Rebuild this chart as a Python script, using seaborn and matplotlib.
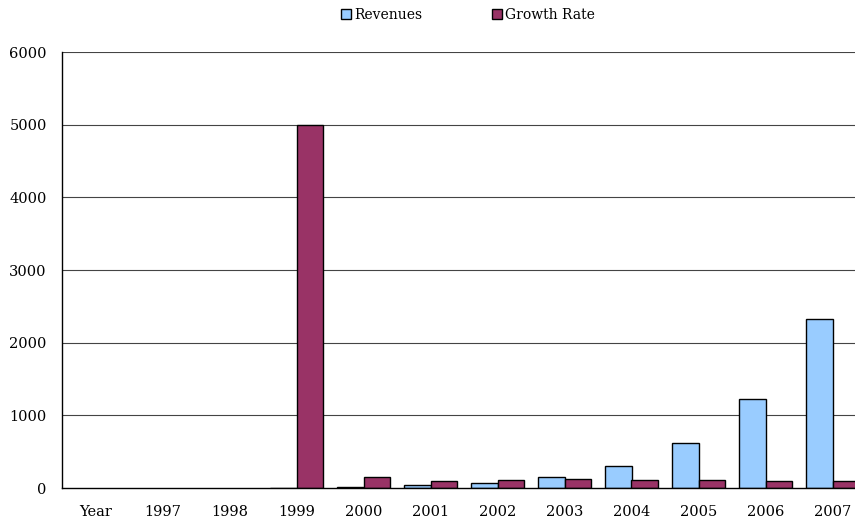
import matplotlib
matplotlib.use("Agg")
import matplotlib.pyplot as plt
import seaborn as sns
import pandas as pd
import numpy as np
from matplotlib.patches import Patch

categories = ["Year", "1997", "1998", "1999", "2000", "2001", "2002",
              "2003", "2004", "2005", "2006", "2007"]
revenues = [np.nan, np.nan, np.nan, 6, 17, 35, 72, 150, 302, 622, 1218, 2322]
growth_rate = [np.nan, np.nan, np.nan, 5000, 155, 100, 108, 118, 108, 108, 98, 92]
series_names = ["Revenues", "Growth Rate"]
series_colors = ["#99CCFF", "#993366"]
y_ticks = [0, 1000, 2000, 3000, 4000, 5000, 6000]

df = pd.DataFrame({
    "category": categories * 2,
    "value": revenues + growth_rate,
    "series": [series_names[0]] * len(categories) + [series_names[1]] * len(categories),
})

sns.set_style("white")
plt.rcParams["font.family"] = ["DejaVu Serif"]
plt.rcParams["text.color"] = "black"
plt.rcParams["xtick.color"] = "black"
plt.rcParams["ytick.color"] = "black"

fig = plt.figure(figsize=(8.55, 5.22), dpi=100)
ax = fig.add_axes([62 / 855, 1 - 488 / 522, 804 / 855, 436 / 522])

sns.barplot(data=df, x="category", y="value", hue="series", order=categories,
            hue_order=series_names, palette=series_colors, width=0.8, saturation=1,
            edgecolor="black", linewidth=1.0, ax=ax, legend=False, zorder=3)

ax.set_xlim(-0.5, len(categories) - 0.5)
ax.set_ylim(0, 6000)
ax.set_yticks(y_ticks)
ax.set_yticklabels([str(t) for t in y_ticks], fontsize=10.5)
ax.set_xlabel("")
ax.set_ylabel("")

# category labels centred, tick marks on category boundaries
ax.set_xticks(range(len(categories)))
ax.set_xticklabels(categories, fontsize=10.5)
ax.set_xticks(np.arange(-0.5, len(categories), 1.0), minor=True)
ax.tick_params(axis="x", which="major", length=0, pad=12)
ax.tick_params(axis="x", which="minor", length=5, width=1, color="black", direction="out")
ax.tick_params(axis="y", length=5, width=1, color="black", direction="out", pad=6)

for t in y_ticks[1:]:
    ax.axhline(t, color="#444444", linewidth=0.8, zorder=1)

for side in ["top", "right"]:
    ax.spines[side].set_visible(False)
for side in ["left", "bottom"]:
    ax.spines[side].set_color("black")
    ax.spines[side].set_linewidth(1.0)
    ax.spines[side].set_zorder(4)

handles = [Patch(facecolor=c, edgecolor="black", linewidth=1.0) for c in series_colors]
fig.legend(handles, series_names, loc="center", bbox_to_anchor=(468 / 855, 1 - 15 / 522),
           ncol=2, frameon=False, fontsize=10, handlelength=0.7, handleheight=0.7,
           handletextpad=0.25, columnspacing=5.0)

fig.savefig("out.png", dpi=100)
